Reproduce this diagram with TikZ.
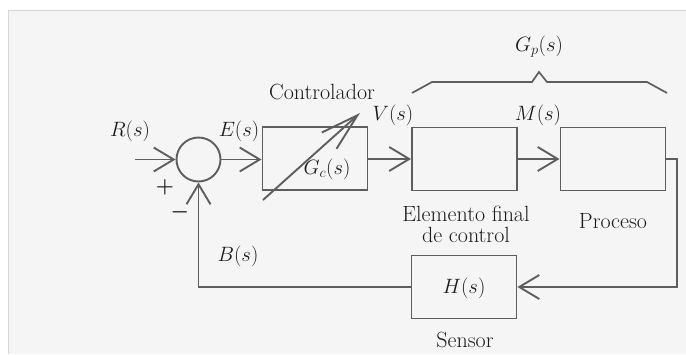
\documentclass[tikz,border=0pt]{standalone}
\usepackage{amsmath}
\usetikzlibrary{arrows.meta}
\definecolor{ln}{HTML}{5E5E5E}
\definecolor{tx}{HTML}{1C1C1C}
\definecolor{bg}{HTML}{F5F5F5}
\definecolor{fr}{HTML}{D6D6D6}
\begin{document}
\begin{tikzpicture}[x=1pt,y=-1pt,
  wire/.style={draw=ln,line width=1.9pt},
  sig/.style={wire,-{Straight Barb[length=20pt,width=24pt,line width=1.9pt]}},
  blk/.style={draw=ln,line width=1.9pt,rectangle,minimum width=105pt,minimum height=63pt,inner sep=0pt},
  lbl/.style={text=tx,font=\fontsize{22}{25}\selectfont,align=center,inner sep=0pt},
  mlbl/.style={text=tx,font=\fontsize{20}{23}\selectfont,inner sep=0pt}]
\useasboundingbox (0,0) rectangle (686,354);
\fill[white] (0,0) rectangle (686,354);
\fill[bg] (8.5,10.5) rectangle (686,354);
\draw[fr,line width=1pt] (8.5,354) -- (8.5,10.5) -- (686,10.5);

% blocks
\node[draw=ln,line width=1.9pt,circle,minimum size=44pt,inner sep=0pt] (sum) at (198.5,159.5) {};
\node[blk] (gc) at (315,158.5) {};
\node[blk] (efc) at (464.5,159) {};
\node[blk] (proc) at (613,159) {};
\node[blk] (h) at (464,287) {};
\coordinate (in) at (135,159.5);
\coordinate (oc) at (677,159);
\coordinate (ob) at (677,287);
\coordinate (fb) at (198.5,287);

% connectors
\draw[sig] (in) -- (sum.west);
\draw[sig] (sum.east) -- (gc.west |- sum.east);
\draw[sig] (gc.east |- efc.west) -- (efc.west);
\draw[sig] (efc.east) -- (proc.west);
\draw[sig] (proc.east) -- (oc) -- (ob) -- (h.east);
\draw[sig] (h.west) -- (fb) -- (sum.south);

% adjustable arrow
\coordinate (da) at (263,200);
\coordinate (db) at (360,113);
\draw[wire,-{Straight Barb[length=38pt,width=22pt,line width=1.9pt]}] (da) -- (db);

% brace
\draw[wire,line width=1.7pt,line join=miter] (412,93) -- (432,82) -- (532,82) -- (539,72) -- (547,82) -- (647,82) -- (667,93);

% labels
\node[mlbl] (lr) at (130,131) {$R(s)$};
\node[mlbl] (le) at (239,131) {$E(s)$};
\node[mlbl] (lv) at (393,115) {$V(s)$};
\node[mlbl] (lm) at (538,115) {$M(s)$};
\node[mlbl] (lb) at (238,256) {$B(s)$};
\node[mlbl] (lgc) at (327,169) {$G_c(s)$};
\node[mlbl] (lh) at (464,288) {$H(s)$};
\node[mlbl] (lgp) at (539,47) {$G_p(s)$};
\node[mlbl] (lplus) at (165,187) {$\boldsymbol{+}$};
\node[mlbl] (lminus) at (180,212) {$\boldsymbol{-}$};
\node[lbl] (lctl) at (322,92) {Controlador};
\node[lbl] (lefc) at (466,224) {Elemento final\\[-4pt]de control};
\node[lbl] (lproc) at (613,221) {Proceso};
\node[lbl] (lsen) at (465,340) {Sensor};
\end{tikzpicture}
\end{document}
